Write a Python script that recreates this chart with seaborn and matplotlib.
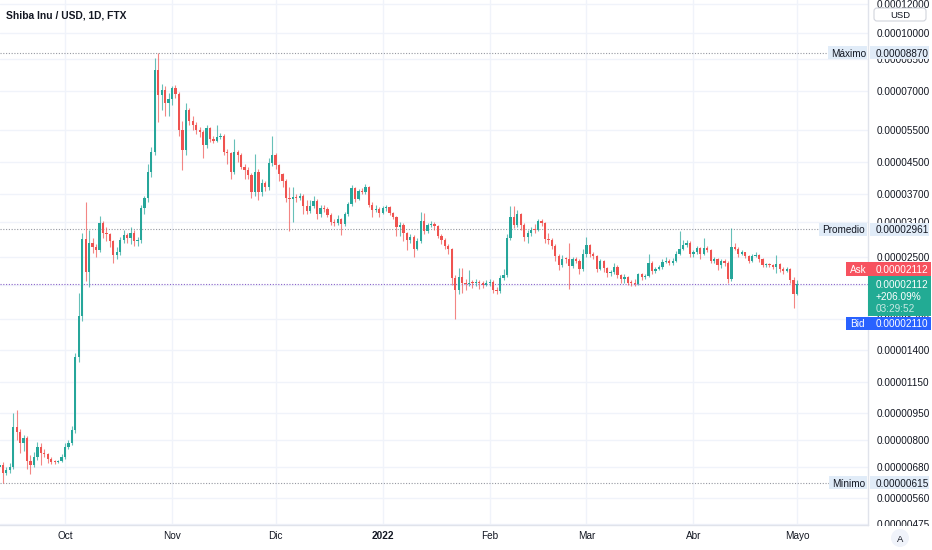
import numpy as np
import pandas as pd
import matplotlib
matplotlib.use("Agg")
import matplotlib.pyplot as plt
import matplotlib.dates as mdates
from matplotlib.patches import Rectangle, FancyBboxPatch, Circle
from matplotlib.transforms import IdentityTransform
from matplotlib.ticker import FixedLocator, FuncFormatter, NullLocator
import seaborn as sns

# SHIB/USD daily candles (FTX), prices in millionths of a dollar
start_date = "2021-09-12"
first_open = 6.77
closes = [6.87,
          6.54, 6.66, 6.79, 8.72, 8.43, 7.85, 8.10, 7.03, 6.87, 7.23,
          7.66, 7.42, 7.35, 7.13, 7.00, 6.99, 7.03, 7.23, 7.70, 7.87,
          8.54, 13.4, 17.3, 27.9, 22.8, 27.2, 26.6, 26.1, 30.8, 28.9,
          28.8, 27.5, 25.2, 25.8, 27.7, 28.6, 28.0, 29.0, 27.5, 27.7,
          33.8, 35.9, 42.4, 48.0, 79.6, 68.3, 70.5, 64.7, 66.4, 71.0,
          68.8, 54.8, 48.6, 62.1, 58.1, 56.5, 54.8, 54.2, 49.9, 55.6,
          52.0, 51.3, 52.6, 52.8, 47.9, 47.6, 42.3, 47.9, 46.9, 43.7,
          42.8, 41.5, 37.4, 42.3, 37.4, 39.4, 38.5, 44.8, 47.0, 44.1,
          41.7, 40.1, 36.0, 35.8, 36.3, 36.0, 36.5, 34.2, 33.3, 34.2,
          35.4, 32.5, 33.9, 33.6, 32.4, 31.0, 30.9, 31.6, 30.6, 32.5,
          34.6, 38.2, 35.8, 37.6, 37.4, 38.5, 34.4, 33.4, 33.6, 32.7,
          33.8, 34.0, 32.7, 32.0, 30.1, 30.4, 28.9, 27.7, 28.3, 26.3,
          27.6, 31.2, 29.4, 30.4, 30.7, 30.2, 28.4, 27.8, 26.8, 26.2,
          21.9, 20.3, 22.1, 21.2, 21.1, 21.3, 21.2, 21.3, 21.2, 21.0,
          21.3, 21.4, 20.3, 20.2, 21.9, 22.3, 28.1, 32.0, 30.4, 32.5,
          30.4, 28.3, 28.9, 29.6, 29.5, 31.2, 30.9, 27.9, 27.8, 26.8,
          25.1, 23.7, 24.7, 24.6, 23.6, 24.7, 24.4, 23.1, 25.4, 26.9,
          25.4, 25.1, 23.2, 24.3, 23.3, 22.6, 22.7, 23.5, 22.3, 21.8,
          22.1, 21.3, 21.2, 21.1, 22.4, 22.1, 22.2, 24.0, 22.9, 23.2,
          23.4, 24.2, 24.4, 24.0, 24.4, 25.5, 26.3, 26.9, 27.3, 25.4,
          25.7, 26.4, 25.4, 26.4, 26.1, 24.4, 24.6, 23.7, 24.4, 24.1,
          21.8, 26.6, 26.3, 25.4, 25.7, 25.1, 24.4, 25.1, 25.3, 24.6,
          23.7, 23.8, 23.7, 23.5, 23.9, 23.2, 22.9, 23.2, 21.6, 19.9,
          21.12]
highs = [7.00,
         7.00, 6.80, 6.95, 9.49, 9.67, 8.60, 8.30, 8.20, 7.30, 7.45,
         7.90, 7.85, 7.60, 7.40, 7.20, 7.10, 7.10, 7.35, 7.85, 8.00,
         8.75, 13.8, 20.0, 28.9, 35.1, 29.5, 28.0, 27.0, 32.1, 31.3,
         30.0, 29.0, 27.8, 26.5, 28.2, 29.5, 29.0, 30.0, 29.5, 28.3,
         34.5, 36.5, 44.5, 49.5, 86.0, 88.7, 73.0, 72.0, 69.0, 72.0,
         72.5, 69.5, 58.0, 64.7, 63.0, 60.0, 57.5, 56.0, 55.0, 56.5,
         56.0, 53.0, 56.6, 54.0, 53.5, 48.8, 48.0, 52.0, 48.5, 47.5,
         44.5, 43.5, 42.0, 47.4, 43.0, 40.5, 40.0, 46.0, 53.0, 47.5,
         44.5, 42.0, 40.5, 38.5, 38.5, 37.0, 37.2, 36.8, 35.5, 35.5,
         36.5, 35.8, 34.5, 34.5, 34.0, 32.8, 31.5, 32.3, 31.8, 33.0,
         35.0, 39.0, 38.5, 38.0, 38.2, 39.2, 38.8, 35.2, 34.5, 34.0,
         34.2, 34.4, 34.2, 33.0, 32.2, 31.0, 30.8, 29.2, 28.8, 28.6,
         28.0, 33.0, 32.8, 30.8, 31.2, 31.0, 30.4, 28.7, 28.0, 27.0,
         26.4, 22.3, 23.3, 23.3, 21.8, 23.0, 21.6, 21.8, 21.6, 21.5,
         21.7, 21.8, 21.6, 20.7, 22.3, 23.2, 28.8, 34.3, 34.3, 33.5,
         32.8, 30.8, 29.5, 30.0, 30.6, 31.6, 31.5, 31.0, 29.0, 28.0,
         27.0, 25.4, 25.2, 25.0, 27.3, 25.0, 25.0, 24.6, 26.2, 28.3,
         27.1, 25.8, 25.3, 24.6, 24.5, 23.5, 23.0, 24.0, 23.7, 22.5,
         22.5, 22.2, 21.6, 21.8, 22.6, 22.6, 22.5, 25.4, 24.3, 23.5,
         23.8, 24.6, 25.0, 24.7, 24.8, 25.9, 29.4, 27.8, 27.8, 27.5,
         26.0, 26.8, 26.6, 28.0, 26.7, 26.3, 25.0, 24.8, 24.7, 24.6,
         24.3, 29.9, 27.2, 26.5, 26.0, 25.8, 25.3, 25.4, 25.7, 25.4,
         24.8, 24.1, 24.0, 23.9, 25.3, 24.0, 23.4, 23.4, 23.3, 22.0,
         21.6]
lows = [6.70,
        6.15, 6.45, 6.55, 6.70, 8.00, 7.40, 7.50, 6.70, 6.50, 6.80,
        7.10, 6.85, 7.20, 6.95, 6.90, 6.92, 6.95, 6.98, 7.15, 7.60,
        7.80, 8.40, 13.0, 16.8, 21.5, 20.7, 25.6, 25.0, 25.8, 28.0,
        27.5, 26.5, 24.0, 24.6, 25.3, 27.2, 27.3, 27.0, 26.7, 26.8,
        27.2, 32.5, 35.0, 41.0, 47.0, 57.5, 62.0, 60.0, 60.0, 64.0,
        67.0, 53.0, 42.7, 47.0, 56.5, 55.0, 53.5, 52.5, 46.0, 49.0,
        51.0, 50.5, 50.8, 52.0, 47.0, 44.5, 40.6, 41.8, 45.0, 43.0,
        40.5, 40.5, 36.0, 36.5, 35.5, 36.5, 37.5, 37.8, 44.0, 43.0,
        40.0, 38.5, 35.0, 29.4, 31.0, 35.0, 35.5, 32.5, 32.5, 32.8,
        33.8, 31.5, 32.0, 33.0, 32.0, 30.5, 30.2, 30.5, 28.6, 30.3,
        32.2, 34.3, 35.0, 35.5, 36.8, 37.0, 34.0, 32.0, 33.0, 32.0,
        32.5, 33.2, 32.3, 31.5, 28.5, 28.5, 27.5, 26.0, 27.3, 25.0,
        26.0, 27.3, 28.8, 29.0, 30.1, 29.6, 28.0, 27.0, 26.3, 25.5,
        21.0, 17.0, 19.8, 20.0, 20.3, 20.8, 20.6, 20.8, 20.5, 20.6,
        20.8, 20.9, 20.0, 19.8, 20.0, 21.6, 22.0, 27.8, 29.8, 30.0,
        29.5, 27.5, 27.3, 28.5, 29.0, 29.3, 30.2, 27.2, 27.0, 26.2,
        24.3, 23.0, 23.4, 24.0, 20.5, 23.3, 24.0, 22.5, 22.9, 25.0,
        25.0, 24.6, 22.8, 23.0, 22.8, 22.0, 22.2, 22.4, 21.9, 21.2,
        21.3, 21.0, 20.9, 20.9, 21.0, 21.7, 21.8, 22.0, 22.5, 22.6,
        23.0, 23.2, 24.0, 23.7, 23.8, 24.2, 25.2, 26.0, 26.6, 25.0,
        25.0, 25.5, 24.6, 25.2, 25.8, 24.0, 24.0, 23.0, 23.3, 23.6,
        21.3, 21.5, 26.0, 25.0, 25.2, 24.8, 24.0, 24.2, 24.9, 24.2,
        23.4, 23.5, 23.4, 23.2, 22.6, 22.8, 22.5, 22.7, 21.2, 18.2,
        19.7]

ytick_values = [120, 100, 85, 70, 55, 45, 37, 31, 25, 21, 17, 14, 11.5, 9.5, 8.0, 6.8, 5.6, 4.75]
month_ticks = ["2021-10-01", "2021-11-01", "2021-12-01", "2022-01-01",
               "2022-02-01", "2022-03-01", "2022-04-01", "2022-05-01"]
month_labels = ["Oct", "Nov", "Dic", "2022", "Feb", "Mar", "Abr", "Mayo"]

price_max = 88.70
price_avg = 29.61
price_min = 6.15
last_price = 21.12
bid_price = 21.10
change_text = "+206.09%"
countdown = "03:29:52"
title = "Shiba Inu / USD, 1D, FTX"

sns.set_theme(style="white")
plt.rcParams["font.family"] = ["Liberation Sans", "DejaVu Sans"]

GREEN = "#26a69a"
RED = "#ef5350"
TEXT = "#131722"
GRID = "#f0f3fa"
BORDER = "#e0e3eb"
TAG_BG = "#e1ecf8"
FS = 7.2

df = pd.DataFrame({
    "date": pd.date_range(start_date, periods=len(closes), freq="D"),
    "open": [first_open] + closes[:-1],
    "high": highs,
    "low": lows,
    "close": closes,
})
for col in ["open", "high", "low", "close"]:
    df[col] = df[col] * 1e-6
df["x"] = mdates.date2num(df["date"])
up = df["close"] >= df["open"]
colors = np.where(up, GREEN, RED)

W, H = 932, 550
AX_R, AX_B = 868, 525
fig = plt.figure(figsize=(W / 100, H / 100), dpi=100, facecolor="white")
ax = fig.add_axes([0, (H - AX_B) / H, AX_R / W, AX_B / H])
ax.set_yscale("log")

# candles
ax.vlines(df["x"], df["low"], df["high"], colors=colors, linewidth=0.8, alpha=0.7, zorder=2)
body_lo = df[["open", "close"]].min(axis=1)
body_hi = df[["open", "close"]].max(axis=1)
body_h = np.maximum(body_hi - body_lo, body_lo * 0.006)
ax.bar(df["x"], body_h, bottom=body_lo, width=0.66, color=colors, linewidth=0, zorder=3)

oct1 = mdates.date2num(pd.Timestamp("2021-10-01"))
px_day = 3.453
ax.set_xlim(oct1 - 65 / px_day, oct1 + (AX_R - 65) / px_day)
ax.set_ylim(4.735e-6, 1.229e-4)

ax.set_axisbelow(True)
ax.grid(True, which="major", color=GRID, linewidth=1)
for s in ["top", "left"]:
    ax.spines[s].set_visible(False)
for s in ["right", "bottom"]:
    ax.spines[s].set_color(BORDER)
    ax.spines[s].set_linewidth(1)

ax.yaxis.tick_right()
ax.yaxis.set_major_locator(FixedLocator(np.array(ytick_values) * 1e-6))
ax.yaxis.set_minor_locator(NullLocator())
ax.yaxis.set_major_formatter(FuncFormatter(lambda v, p: f"{v:.8f}"))
ax.tick_params(axis="y", length=0, pad=6, labelsize=FS, labelcolor=TEXT)

ax.xaxis.set_major_locator(FixedLocator(mdates.date2num(pd.to_datetime(month_ticks))))
ax.xaxis.set_minor_locator(NullLocator())
ax.set_xticklabels(month_labels)
ax.tick_params(axis="x", length=0, pad=4, labelsize=FS, labelcolor=TEXT)
for lab in ax.get_xticklabels():
    if lab.get_text() == "2022":
        lab.set_fontweight("bold")

dots = (0, (1, 1.5))
ax.axhline(price_max * 1e-6, xmax=828 / AX_R, color="#9598a1", lw=0.8, ls=dots, zorder=1.5)
ax.axhline(price_avg * 1e-6, xmax=819 / AX_R, color="#9598a1", lw=0.8, ls=dots, zorder=1.5)
ax.axhline(price_min * 1e-6, xmax=829 / AX_R, color="#9598a1", lw=0.8, ls=dots, zorder=1.5)
ax.axhline(last_price * 1e-6, color="#8a63c9", lw=0.8, ls=dots, zorder=1.5)

x_left = ax.get_xlim()[0]


def ypix(v):
    return ax.transData.transform((x_left, v))[1]


def box(x0, x1, y0, y1, fc, z=5):
    fig.add_artist(Rectangle((x0, y0), x1 - x0, y1 - y0, transform=IdentityTransform(),
                             facecolor=fc, edgecolor="none", linewidth=0, zorder=z))


def txt(x, y, s, color=TEXT, ha="left", size=FS, weight="normal", alpha=1.0, z=6):
    fig.text(x, y, s, transform=IdentityTransform(), ha=ha, va="center_baseline",
             color=color, fontsize=size, fontweight=weight, alpha=alpha, zorder=z)


# high / average / low tags
for name, value, x0 in [("Máximo", price_max, 828), ("Promedio", price_avg, 819), ("Mínimo", price_min, 829)]:
    yc = ypix(value * 1e-6)
    box(x0, 867, yc - 6.5, yc + 6.5, TAG_BG)
    box(870, 929, yc - 6.5, yc + 6.5, TAG_BG)
    txt(x0 + 3, yc, name)
    txt(876, yc, f"{value * 1e-6:.8f}")

# last price, ask and bid tags
yc = ypix(last_price * 1e-6)
box(868, 931, yc - 32, yc + 8, "#22ab94")
txt(876, yc, f"{last_price * 1e-6:.8f}", color="white")
txt(876, yc - 12, change_text, color="white")
txt(876, yc - 24, countdown, color="white", alpha=0.75)
box(846, 931, yc + 8, yc + 22, "#f7525f", z=7)
txt(850, yc + 15, "Ask", color="white", z=8)
txt(876, yc + 15, f"{last_price * 1e-6:.8f}", color="white", z=8)
box(846, 931, yc - 46, yc - 33, "#2962ff", z=7)
txt(850, yc - 39.5, "Bid", color="white", z=8)
txt(876, yc - 39.5, f"{bid_price * 1e-6:.8f}", color="white", z=8)

# corner widgets
box(869, W, 0, H - AX_B - 0.5, "white", z=4)
fig.add_artist(FancyBboxPatch((874, H - 21), 52, 13, boxstyle="round,pad=0,rounding_size=3",
                              transform=IdentityTransform(), facecolor="white",
                              edgecolor="#d1d4dc", linewidth=0.8, zorder=5))
txt(900, H - 14.5, "USD", ha="center", size=6.8)
fig.add_artist(Circle((900, H - 538), 9, transform=IdentityTransform(),
                      facecolor="#f0f3fa", edgecolor="none", zorder=5))
txt(900, H - 538, "A", ha="center", size=6.8)

txt(6, H - 14.5, title, weight="bold", size=7.4)

fig.savefig("out.png", dpi=100, facecolor="white")
